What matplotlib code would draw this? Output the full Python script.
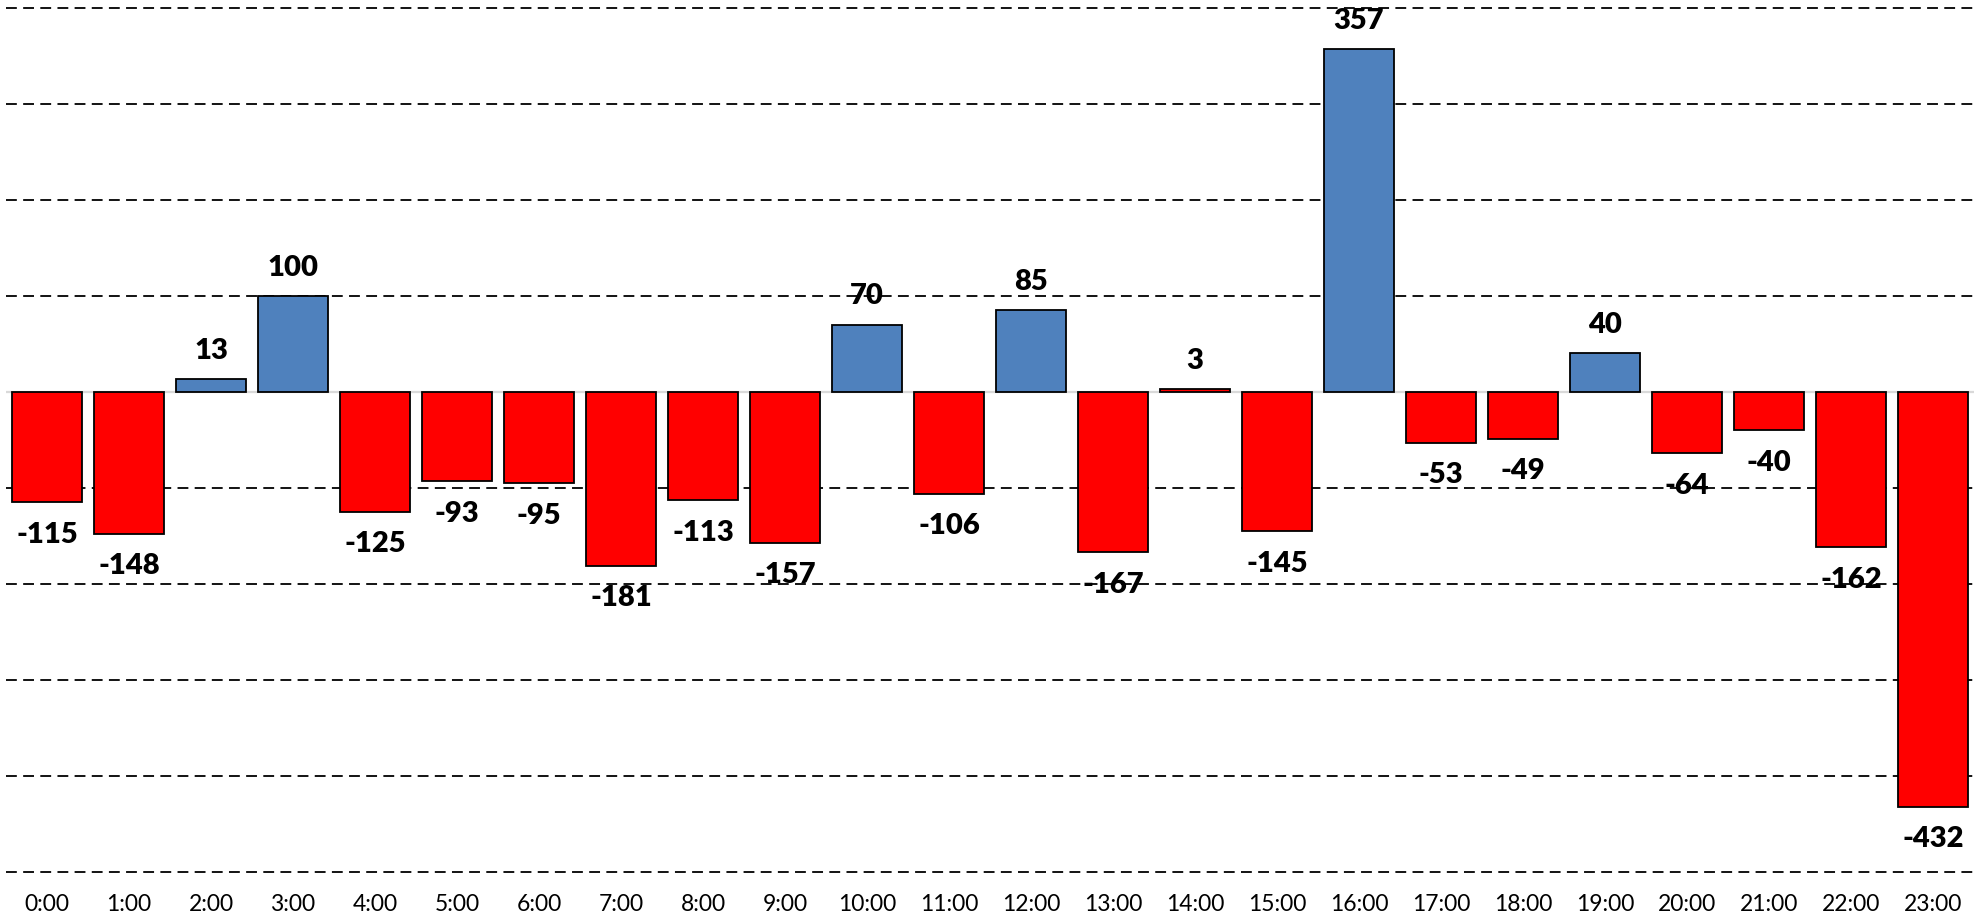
import matplotlib.pyplot as plt
import matplotlib as mpl

hours = ["%d:00" % h for h in range(24)]
values = [-115, -148, 13, 100, -125, -93, -95, -181, -113, -157, 70, -106,
          85, -167, 3, -145, 357, -53, -49, 40, -64, -40, -162, -432]
# 14:00 is drawn red in the original even though it is positive
red_hours = [14]

mpl.rcParams['font.family'] = ['Lato', 'DejaVu Sans']

fig = plt.figure(figsize=(19.86, 9.14), dpi=100)
ax = fig.add_axes([0.003, 0.046, 0.991, 0.9455])

colors = []
for i, v in enumerate(values):
	if v < 0 or i in red_hours: colors.append("#ff0000")
	else: colors.append("#4f81bd")

x = range(len(values))
ax.bar(x, values, width=0.85, color=colors, edgecolor="black", linewidth=1.3, zorder=3)

for i, v in enumerate(values):
	if v >= 0:
		ax.annotate(str(v), (i, v), xytext=(0, 11), textcoords="offset points",
			ha="center", va="bottom", fontsize=21, fontweight="heavy")
	else:
		ax.annotate(str(v), (i, v), xytext=(0, -14), textcoords="offset points",
			ha="center", va="top", fontsize=21, fontweight="heavy")

for y in range(-500, 401, 100):
	if y == 0: continue
	ax.axhline(y, color="black", linewidth=1.3, linestyle=(0, (6, 3.5)), zorder=1, clip_on=False)
ax.axhline(0, color="#d9d9d9", linewidth=1.6, zorder=2)

ax.set_xlim(-0.5, 23.5)
ax.set_ylim(-500, 400)
ax.set_xticks(list(x))
ax.set_xticklabels(hours, fontsize=16.5)
ax.set_yticks([])
ax.tick_params(axis="x", length=0, pad=16)
for s in ax.spines.values(): s.set_visible(False)

plt.savefig("out.png", dpi=100)
